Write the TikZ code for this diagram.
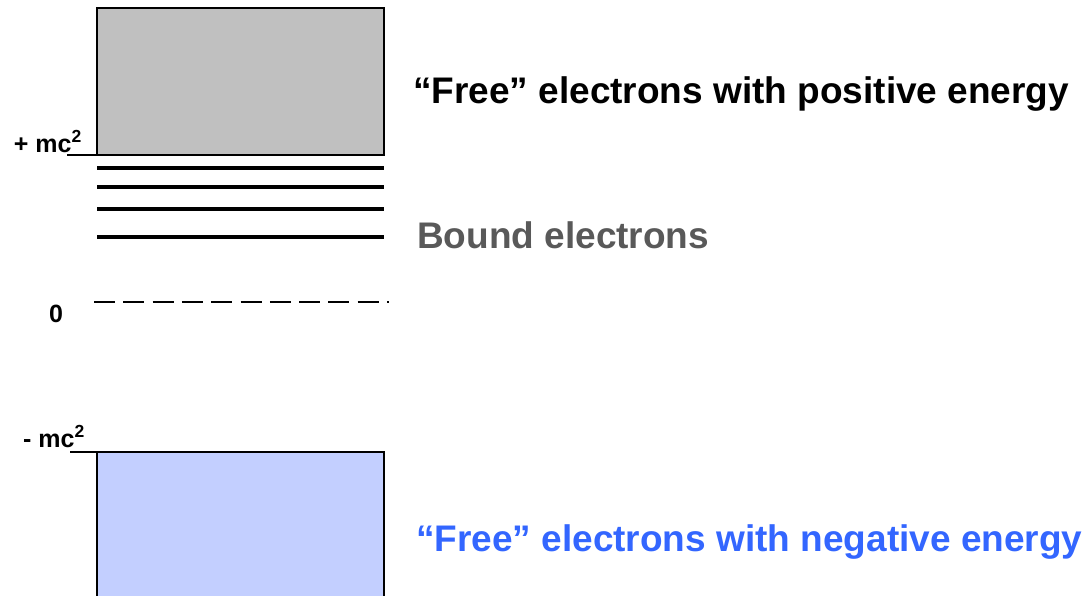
\documentclass[tikz,border=0pt]{standalone}
\usepackage{fontspec}
\setmainfont{Liberation Sans}
\definecolor{boxgray}{RGB}{192,192,192}
\definecolor{boxblue}{RGB}{195,207,255}
\definecolor{textblue}{RGB}{51,102,255}
\definecolor{textgray}{RGB}{89,89,89}
\begin{document}
\begin{tikzpicture}[x=1pt,y=-1pt,
  band/.style={draw=black,line width=2.5pt},
  level/.style={line width=4.5pt},
  tick/.style={line width=2pt},
  bigtext/.style={anchor=base west,inner sep=0pt,font=\fontsize{37}{42}\selectfont\bfseries},
  small/.style={anchor=base east,inner sep=0pt,font=\fontsize{25}{28}\selectfont\bfseries}]
\useasboundingbox (0,0) rectangle (1092,595);
% upper continuum
\path[band,fill=boxgray] (97,8) rectangle (384,155);
\coordinate (ptick) at (67,155);
\coordinate (pr) at (384,155);
\draw[tick] (ptick) -- (pr);
\node[small] (plus) at (82,152) {+ mc\textsuperscript{2}};
% bound levels
\foreach \yy/\nm in {168/a,187/b,209/c,237/d}{
  \coordinate (l\nm) at (97,\yy);
  \coordinate (r\nm) at (384,\yy);
  \draw[level] (l\nm) -- (r\nm);
}
% zero level
\coordinate (z1) at (94,302);
\coordinate (z2) at (389,302);
\draw[line width=2pt,dash pattern=on 21pt off 8.3pt] (z1) -- (z2);
\node[small,anchor=base] (zero) at (56,322) {0};
% lower continuum
\path[band,fill=boxblue] (97,452) rectangle (384,620);
\coordinate (ntick) at (70,452);
\coordinate (nr) at (384,452);
\draw[tick] (ntick) -- (nr);
\node[small] (minus) at (85,447) {- mc\textsuperscript{2}};
% labels
\node[bigtext] (pos) at (413,103) {“Free” electrons with positive energy};
\node[bigtext,text=textgray] (bound) at (417,248) {Bound electrons};
\node[bigtext,text=textblue] (neg) at (416,551) {“Free” electrons with negative energy};
\end{tikzpicture}
\end{document}
